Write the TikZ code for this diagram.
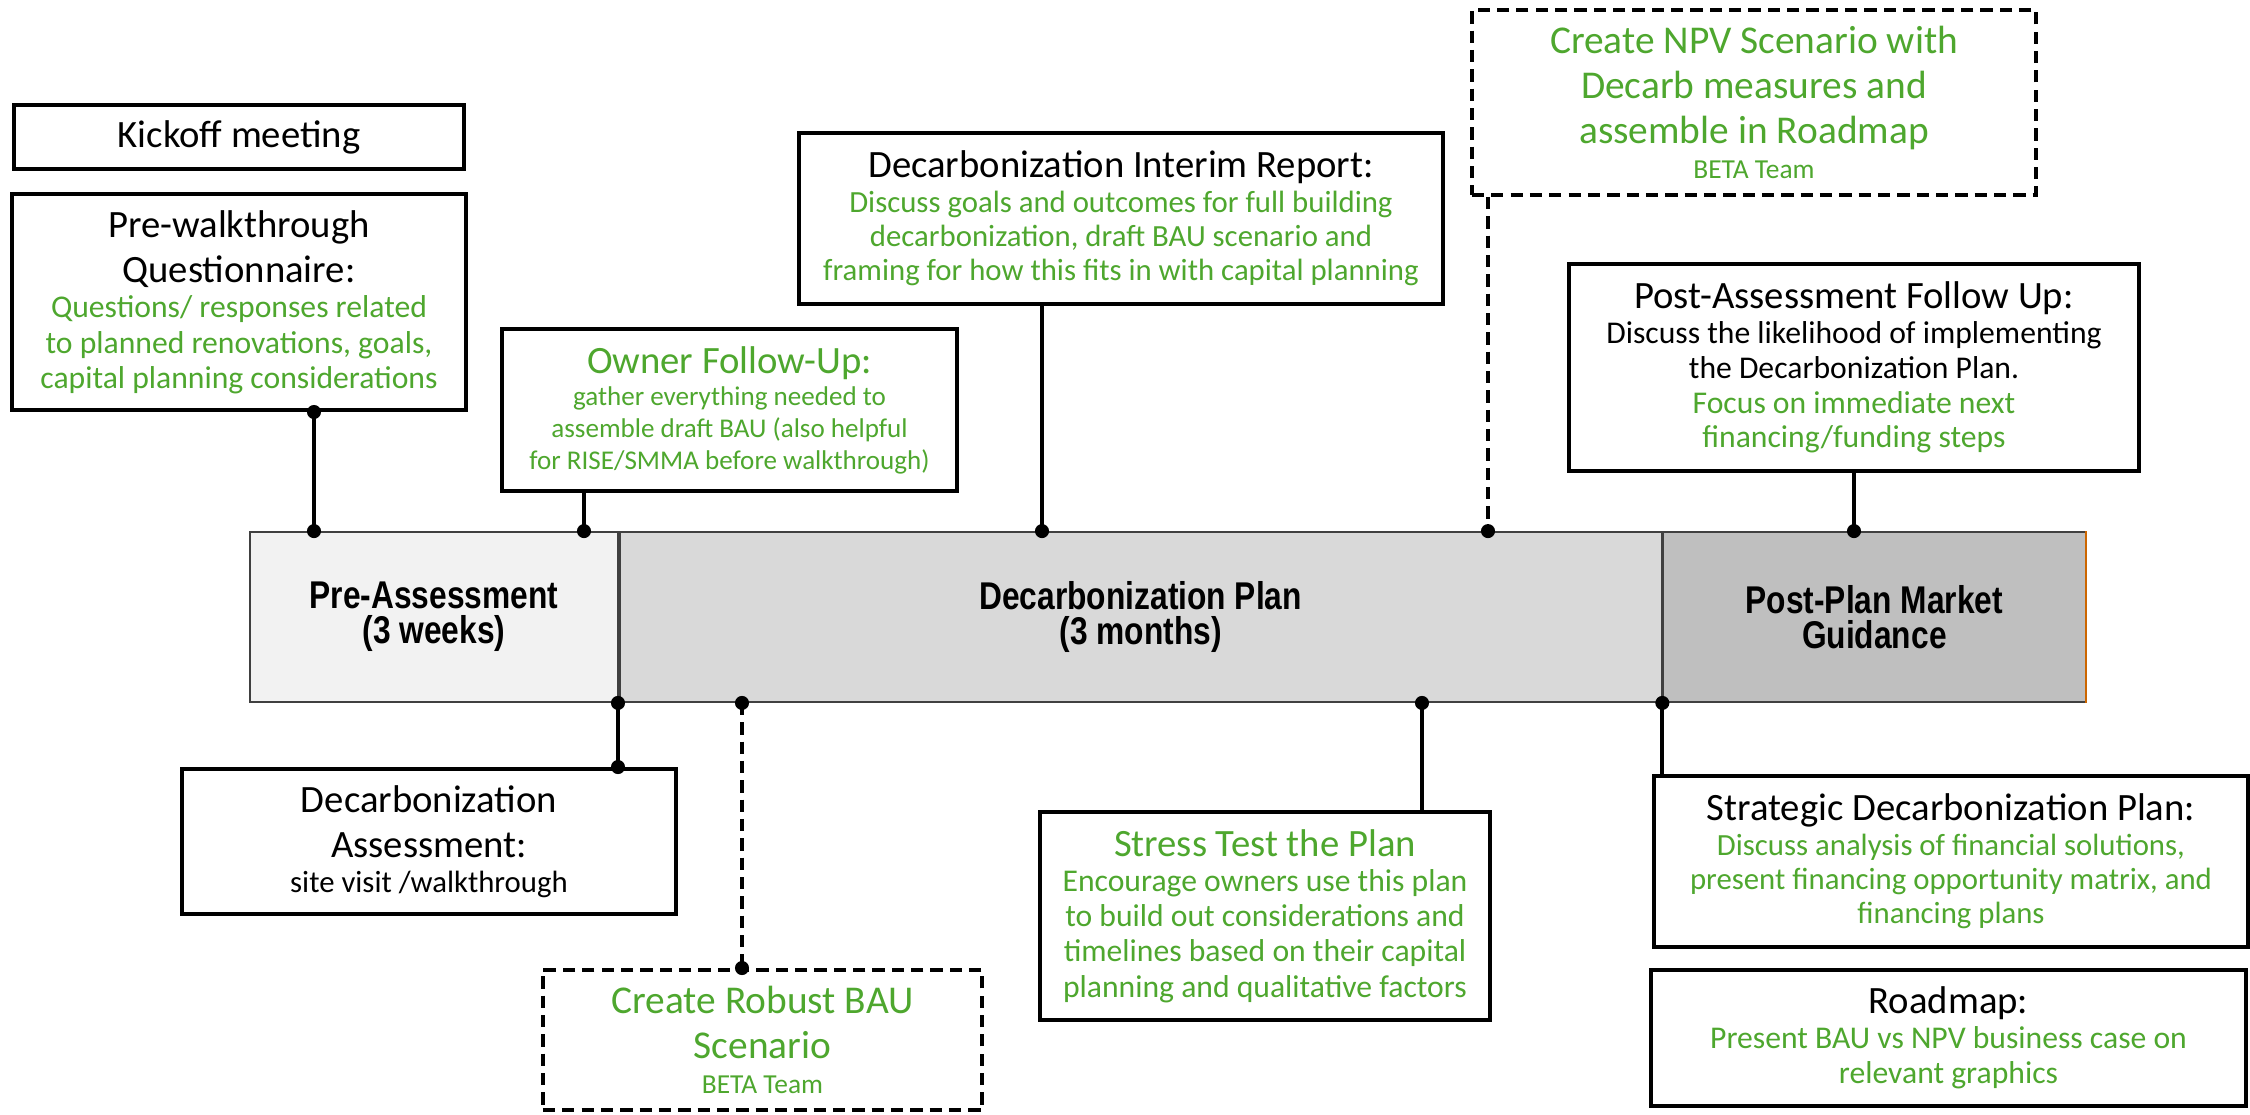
\documentclass[tikz,border=0pt]{standalone}
\usepackage{fontspec}
\setmainfont{Carlito}
\newfontfamily\barfont[FakeStretch=0.82]{Liberation Sans}
\usetikzlibrary{positioning}
\definecolor{grn}{HTML}{4EA72E}
\definecolor{prefill}{HTML}{F2F2F2}
\definecolor{planfill}{HTML}{D9D9D9}
\definecolor{postfill}{HTML}{BFBFBF}
\newcommand{\hd}{\fontsize{11}{13}\selectfont}
\newcommand{\hdl}{\fontsize{11.2}{12.8}\selectfont}
\newcommand{\sm}{\fontsize{9}{9.9}\selectfont}
\newcommand{\smr}{\fontsize{8.75}{9.8}\selectfont}
\newcommand{\tm}{\fontsize{7.8}{10}\selectfont}
\tikzset{
	box/.style={draw, line width=1.1pt, fill=white, align=flush center, inner sep=2pt},
	dbox/.style={box, dash pattern=on 3.5pt off 2pt},
	phase/.style={draw=black!75, line width=0.5pt, minimum height=1.7cm, inner sep=0pt, align=center, font=\barfont\bfseries\fontsize{11}{10}\selectfont},
	link/.style={line width=1.2pt},
	dlink/.style={link, dash pattern=on 3.5pt off 2pt},
	dot/.style={circle, fill=black, inner sep=0pt, minimum size=4pt}
}
\begin{document}
\begin{tikzpicture}[x=0.01cm, y=-0.01cm]
		\useasboundingbox (0,0) rectangle (2250,1114);
		
		% the three phases
		\node[phase, fill=prefill, minimum width=3.68cm] (pre) at (434,617) {Pre-Assessment\\(3 weeks)};
		\node[phase, fill=planfill, minimum width=10.41cm, right=0pt of pre] (plan) {Decarbonization Plan\\(3 months)};
		\node[phase, fill=postfill, minimum width=4.22cm, right=0pt of plan] (post) {Post-Plan Market\\Guidance};
		\draw[orange!80!black, line width=0.5pt] (post.north east) -- (post.south east);
		
		% above the bar
		\node[box, minimum width=4.5cm, minimum height=0.64cm] (kick) at (239,137) {\hd Kickoff meeting};
		\node[box, minimum width=4.5cm, minimum height=2.16cm, text width=4.4cm] (prewalk) at (239,302) {\hd Pre-walkthrough\\Questionnaire:\par\fontsize{9}{10}\selectfont\color{grn}Questions/ responses related\\to planned renovations, goals,\\capital planning considerations\par};
		\node[box, minimum width=4.49cm, minimum height=1.62cm, text width=4.4cm] (owner) at (729.5,410) {\hd\color{grn}Owner Follow-Up:\par\fontsize{7.7}{9.1}\selectfont gather everything needed to\\assemble draft BAU (also helpful\\for RISE/SMMA before walkthrough)\par};
		\node[box, minimum width=6.4cm, minimum height=1.71cm, text width=6.3cm] (interim) at (1121,218.5) {\hd Decarbonization Interim Report:\par\smr\color{grn}Discuss goals and outcomes for full building\\decarbonization, draft BAU scenario and\\framing for how this fits in with capital planning\par};
		\node[dbox, minimum width=5.58cm, minimum height=1.85cm, text width=5.5cm] (npv) at (1754,102.5) {\hdl\color{grn}Create NPV Scenario with\\Decarb measures and\\assemble in Roadmap\par\tm BETA Team\par};
		\node[box, minimum width=5.66cm, minimum height=2.07cm, text width=5.55cm] (postfu) at (1854,367.5) {\hd Post-Assessment Follow Up:\par\sm Discuss the likelihood of implementing\\the Decarbonization Plan.\\\color{grn}Focus on immediate next\\financing/funding steps\par};
		
		% below the bar
		\node[box, minimum width=4.94cm, minimum height=1.45cm, text width=4.8cm] (assess) at (429,841.5) {\hd Decarbonization\\Assessment:\par\smr site visit /walkthrough\par};
		\node[dbox, minimum width=4.35cm, minimum height=1.4cm, text width=4.25cm] (bau) at (762.5,1040) {\hdl\color{grn}Create Robust BAU\\Scenario\par\tm BETA Team\par};
		\node[box, minimum width=4.46cm, minimum height=2.08cm, text width=4.36cm] (stress) at (1265,916) {\hd\color{grn}Stress Test the Plan\par\fontsize{9}{10}\selectfont Encourage owners use this plan\\to build out considerations and\\timelines based on their capital\\planning and qualitative factors\par};
		\node[box, minimum width=5.92cm, minimum height=1.71cm, text width=5.8cm] (strat) at (1951,861.5) {\hd Strategic Decarbonization Plan:\par\smr\color{grn}Discuss analysis of financial solutions,\\present financing opportunity matrix, and\\financing plans\par};
		\node[box, minimum width=5.93cm, minimum height=1.36cm, text width=5.8cm] (road) at (1948.5,1038) {\hd Roadmap:\par\sm\color{grn}Present BAU vs NPV business case on\\relevant graphics\par};
		
		\foreach \n/\x in {q/314, o/584, r/1042, v/1488, f/1854, a/618, b/742, s/1422}
			\coordinate (x\n) at (\x,0);
		
		\draw[link] (prewalk.south -| xq) node[dot]{} -- (pre.north -| xq) node[dot]{};
		\draw[link] (owner.south -| xo) -- (pre.north -| xo) node[dot]{};
		\draw[link] (interim.south -| xr) -- (plan.north -| xr) node[dot]{};
		\draw[dlink] (npv.south -| xv) -- (plan.north -| xv) node[dot]{};
		\draw[link] (postfu.south -| xf) -- (post.north -| xf) node[dot]{};
		\draw[link] (pre.south -| xa) node[dot]{} -- (assess.north -| xa) node[dot]{};
		\draw[dlink] (plan.south -| xb) node[dot]{} -- (bau.north -| xb) node[dot]{};
		\draw[link] (plan.south -| xs) node[dot]{} -- (stress.north -| xs);
		\draw[link] (plan.south east) node[dot]{} -- (strat.north -| plan.south east);
	\end{tikzpicture}
\end{document}
